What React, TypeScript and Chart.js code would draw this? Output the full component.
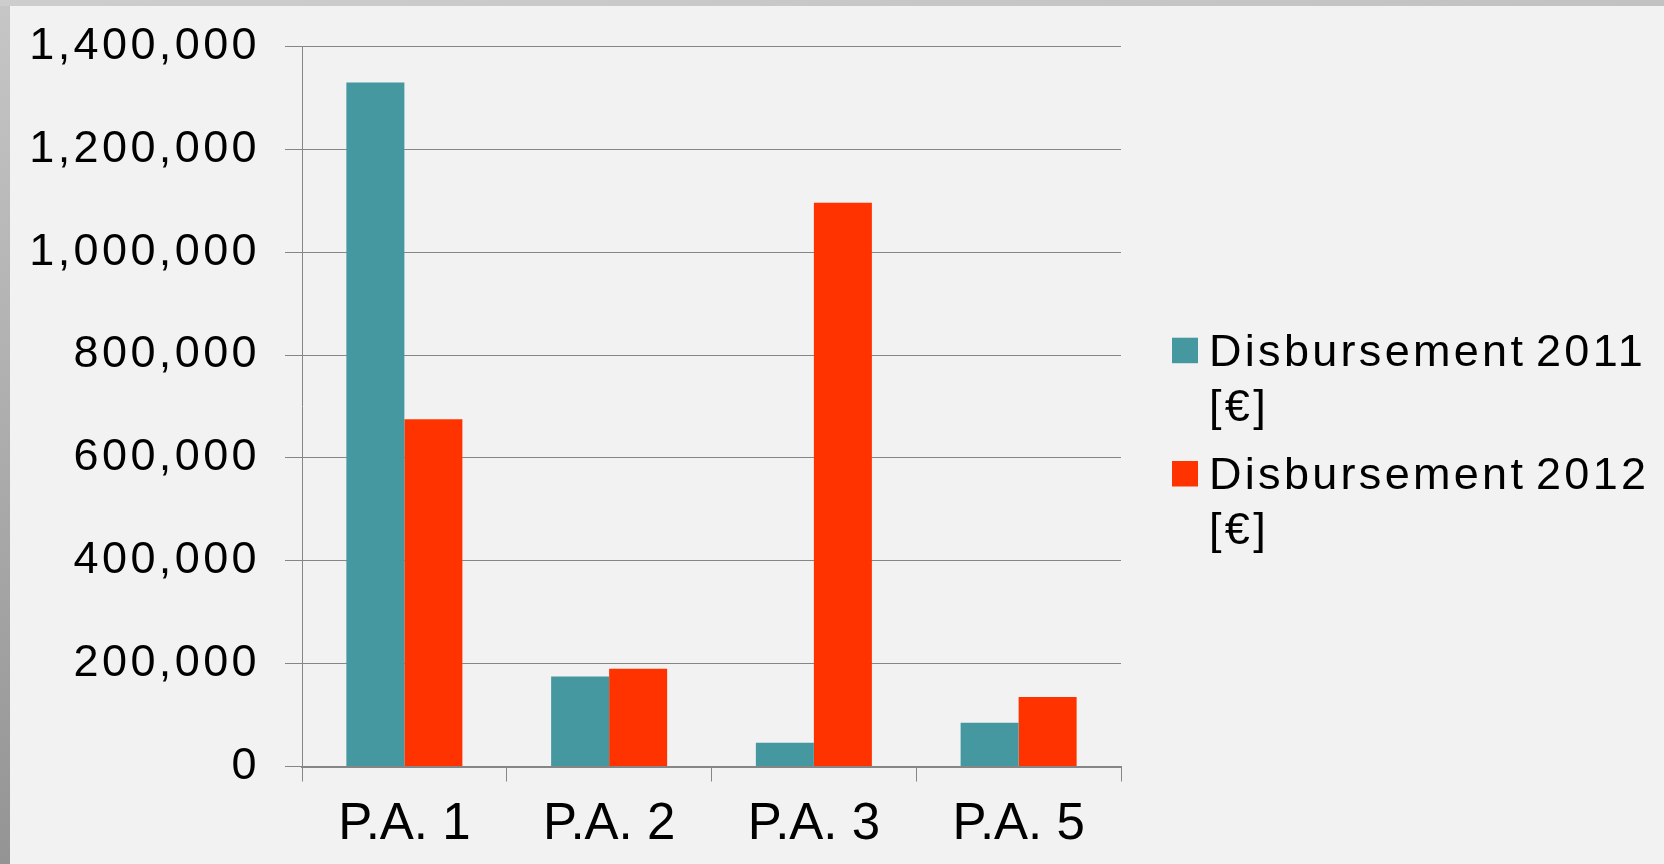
import React, { useEffect, useRef } from "react";
import { Chart, registerables } from "chart.js";

Chart.register(...registerables);

const categories = ["P.A. 1", "P.A. 2", "P.A. 3", "P.A. 5"];
const disbursement2011 = [1330000, 175000, 46000, 85000];
const disbursement2012 = [675000, 190000, 1096000, 135000];
const seriesNames = ["Disbursement 2011 [€]", "Disbursement 2012 [€]"];
const legendLines = [
  ["Disbursement 2011", "[€]"],
  ["Disbursement 2012", "[€]"],
];
const seriesColors = ["#4698a0", "#ff3300"];
const yTickValues = [0, 200000, 400000, 600000, 800000, 1000000, 1200000, 1400000];

const FONT = '"Liberation Sans", Arial, sans-serif';
const GRID = "#868686";

const decorPlugin = {
  id: "decor",
  beforeDraw(chart: any) {
    const { ctx, width, height } = chart;
    ctx.save();
    ctx.fillStyle = "#f2f2f2";
    ctx.fillRect(0, 0, width, height);
    const gl = ctx.createLinearGradient(0, 0, 0, height);
    gl.addColorStop(0, "#c6c6c6");
    gl.addColorStop(1, "#949494");
    ctx.fillStyle = gl;
    ctx.fillRect(0, 0, 10, height);
    const gt = ctx.createLinearGradient(0, 0, width, 0);
    gt.addColorStop(0, "#cdcdcd");
    gt.addColorStop(1, "#c2c2c2");
    ctx.fillStyle = gt;
    ctx.fillRect(0, 0, width, 6);
    ctx.restore();
    ctx.letterSpacing = "0px";
    ctx.wordSpacing = "0px";
  },
  afterDatasetsDraw(chart: any) {
    chart.ctx.letterSpacing = "3.4px";
  },
  afterDraw(chart: any) {
    const ctx = chart.ctx;
    ctx.save();
    ctx.letterSpacing = "3.3px";
    ctx.wordSpacing = "-6px";
    ctx.font = `45px ${FONT}`;
    ctx.textAlign = "left";
    ctx.textBaseline = "alphabetic";
    legendLines.forEach((lines, i) => {
      const base = 365.7 + i * 123.3;
      ctx.fillStyle = seriesColors[i];
      ctx.fillRect(1172, base - 28, 26, 25.5);
      ctx.fillStyle = "#000000";
      lines.forEach((line, j) => {
        ctx.fillText(line, 1209, base + j * 55);
      });
    });
    ctx.restore();
    ctx.letterSpacing = "0px";
    ctx.wordSpacing = "0px";
  },
};

export default function App() {
  const canvasRef = useRef<HTMLCanvasElement | null>(null);

  useEffect(() => {
    if (!canvasRef.current) return;
    const chart = new Chart(canvasRef.current, {
      type: "bar",
      data: {
        labels: categories,
        datasets: [
          {
            label: seriesNames[0],
            data: disbursement2011,
            backgroundColor: seriesColors[0],
            borderWidth: 0,
            categoryPercentage: 0.5666,
            barPercentage: 1,
          },
          {
            label: seriesNames[1],
            data: disbursement2012,
            backgroundColor: seriesColors[1],
            borderWidth: 0,
            categoryPercentage: 0.5666,
            barPercentage: 1,
          },
        ],
      },
      options: {
        responsive: false,
        animation: false,
        layout: { padding: { top: 46.5, right: 543, left: 0, bottom: 0 } },
        plugins: {
          legend: { display: false },
          tooltip: { enabled: false },
          title: { display: false },
        },
        scales: {
          x: {
            afterFit: (scale: any) => {
              scale.height = 97.5;
              scale.paddingLeft = 0;
              scale.paddingRight = 0;
            },
            grid: {
              display: true,
              drawOnChartArea: false,
              drawTicks: true,
              tickLength: 15,
              color: GRID,
              lineWidth: 1,
              offset: true,
            },
            border: { display: true, color: GRID, width: 2 },
            ticks: {
              color: "#000000",
              font: { family: FONT, size: 51 },
              padding: 13,
              maxRotation: 0,
              autoSkip: false,
            },
          },
          y: {
            min: 0,
            max: 1400000,
            afterFit: (scale: any) => {
              scale.width = 302;
              scale.paddingTop = 20;
              scale.paddingBottom = 20;
            },
            afterBuildTicks: (scale: any) => {
              scale.ticks = yTickValues.map((v) => ({ value: v }));
            },
            grid: {
              color: GRID,
              lineWidth: 1,
              tickLength: 17,
              drawTicks: true,
            },
            border: { display: true, color: GRID, width: 1 },
            ticks: {
              z: 1,
              color: "#000000",
              font: { family: FONT, size: 45 },
              padding: 25,
              callback: (v: any) => Number(v).toLocaleString("en-US"),
            },
          },
        },
      },
      plugins: [decorPlugin],
    });
    return () => chart.destroy();
  }, []);

  return (
    <div style={{ position: "fixed", left: 0, top: 0, width: 1664, height: 864, background: "#f2f2f2" }}>
      <canvas ref={canvasRef} width={1664} height={864} style={{ display: "block" }} />
    </div>
  );
}
